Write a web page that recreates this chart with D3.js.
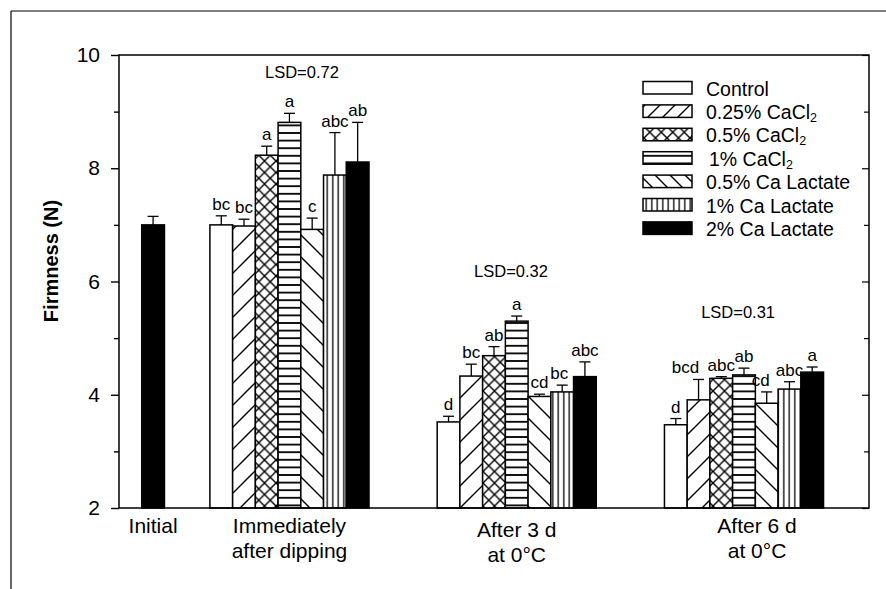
<!DOCTYPE html>
<html><head><meta charset="utf-8">
<script src="https://cdn.jsdelivr.net/npm/d3@7"></script>
<style>
body{margin:0;background:#fff}
svg{display:block}
text{font-family:"Liberation Sans",Arial,Helvetica,sans-serif;fill:#000}
</style>
</head><body>
<svg id="c" width="886" height="589"></svg>
<script>
// ---------------- data ----------------
const categories = ["Initial", "Immediately|after dipping", "After 3 d|at 0°C", "After 6 d|at 0°C"];
const treatments = ["Control", "0.25% CaCl2", "0.5% CaCl2", "1% CaCl2", "0.5% Ca Lactate", "1% Ca Lactate", "2% Ca Lactate"];

const initialValues = [7.00];
const initialErrors = [0.15];
const initialLetters = [""];

const immediateValues = [7.00, 6.98, 8.23, 8.81, 6.92, 7.88, 8.11];
const immediateErrors = [0.16, 0.12, 0.16, 0.16, 0.20, 0.75, 0.70];
const immediateLetters = ["bc", "bc", "a", "a", "c", "abc", "ab"];

const after3dValues = [3.52, 4.33, 4.69, 5.30, 3.97, 4.05, 4.32];
const after3dErrors = [0.10, 0.21, 0.16, 0.09, 0.04, 0.12, 0.26];
const after3dLetters = ["d", "bc", "ab", "a", "cd", "bc", "abc"];

const after6dValues = [3.47, 3.91, 4.29, 4.35, 3.85, 4.10, 4.40];
const after6dErrors = [0.11, 0.36, 0.03, 0.12, 0.20, 0.13, 0.09];
const after6dLetters = ["d", "bcd", "abc", "ab", "cd", "abc", "a"];

const lsdLabels = ["LSD=0.72", "LSD=0.32", "LSD=0.31"];
const yMajorTicks = [2, 4, 6, 8, 10];
const yMinorTicks = [3, 5, 7, 9];
const yDomain = [2, 10];
const yTitle = "Firmness (N)";

// ---------------- layout ----------------
const svg = d3.select("#c");
const pL = 119, pR = 869, pT = 55, pB = 508;
const x = d3.scaleLinear().domain([0, 33]).range([pL, pR]);
const y = d3.scaleLinear().domain(yDomain).range([pB, pT]);
const bw = x(1) - x(0);

// outer page frame (top/left)
svg.append("line").attr("x1", 11).attr("x2", 886).attr("y1", 11).attr("y2", 11).attr("stroke", "#000").attr("stroke-width", 1.2);
svg.append("line").attr("x1", 11).attr("x2", 11).attr("y1", 11).attr("y2", 589).attr("stroke", "#000").attr("stroke-width", 1.2);

// ---------------- patterns ----------------
const defs = svg.append("defs");
function pat(id, w, h, draw) {
  const p = defs.append("pattern").attr("id", id).attr("patternUnits", "userSpaceOnUse")
    .attr("width", w).attr("height", h);
  p.append("rect").attr("width", w).attr("height", h).attr("fill", "#fff");
  draw(p, w, h);
}
function slashPat(id, s) {
  pat(id, s, s, (p) => p.append("path").attr("d", `M0,${s} L${s},0 M${-2},2 L2,${-2} M${s-2},${s+2} L${s+2},${s-2}`)
    .attr("stroke", "#000").attr("stroke-width", 1.4));
}
function backPat(id, s) {
  pat(id, s, s, (p) => p.append("path").attr("d", `M0,0 L${s},${s} M${-2},${s-2} L2,${s+2} M${s-2},${-2} L${s+2},2`)
    .attr("stroke", "#000").attr("stroke-width", 1.4));
}
slashPat("p1", 22); slashPat("lp1", 15);
backPat("p4", 22); backPat("lp4", 15);
pat("p2", 11.5, 11.5, (p) => p.append("path").attr("d", "M0,0 L11.5,11.5 M11.5,0 L0,11.5")
  .attr("stroke", "#000").attr("stroke-width", 1.4));
pat("p3", 10, 7.6, (p) => p.append("line").attr("x1", 0).attr("x2", 10).attr("y1", 3.8).attr("y2", 3.8)
  .attr("stroke", "#000").attr("stroke-width", 1.8));
pat("p5", 5.5, 10, (p) => p.append("line").attr("x1", 2.75).attr("x2", 2.75).attr("y1", 0).attr("y2", 10)
  .attr("stroke", "#000").attr("stroke-width", 1.3));
const fills = ["#fff", "url(#p1)", "url(#p2)", "url(#p3)", "url(#p4)", "url(#p5)", "#000"];
const legendFills = ["#fff", "url(#lp1)", "url(#p2)", "url(#p3)", "url(#lp4)", "url(#p5)", "#000"];

// ---------------- groups ----------------
const groupStart = [1, 4, 14, 24];
const groupSeries = [
  {v: initialValues, e: initialErrors, l: initialLetters, t: [6]},
  {v: immediateValues, e: immediateErrors, l: immediateLetters},
  {v: after3dValues, e: after3dErrors, l: after3dLetters},
  {v: after6dValues, e: after6dErrors, l: after6dLetters}
];
const bars = [];
groupSeries.forEach((g, gi) => {
  g.v.forEach((v, i) => {
    const ti = g.t ? g.t[i] : i;
    bars.push({gi, i, ti, v, e: g.e[i], letter: g.l[i], x0: groupStart[gi] + i});
  });
});

// axes ticks (left, outward)
svg.append("g").attr("transform", `translate(${pL},0)`)
  .call(d3.axisLeft(y).tickValues(yMajorTicks).tickSize(8).tickSizeOuter(0).tickPadding(11).tickFormat(d3.format("d")))
  .call(g => { g.select(".domain").remove(); g.selectAll("line").attr("stroke-width", 1.4);
    g.selectAll("text").attr("font-size", 21).attr("font-family", '"Liberation Sans",Arial,sans-serif'); });
svg.append("g").attr("transform", `translate(${pL},0)`)
  .call(d3.axisLeft(y).tickValues(yMinorTicks).tickSize(5).tickSizeOuter(0).tickFormat(""))
  .call(g => { g.select(".domain").remove(); g.selectAll("line").attr("stroke-width", 1.4); });
// right axis ticks (inward)
svg.append("g").attr("transform", `translate(${pR},0)`)
  .call(d3.axisLeft(y).tickValues(yMajorTicks).tickSize(7).tickSizeOuter(0).tickFormat(""))
  .call(g => { g.select(".domain").remove(); g.selectAll("line").attr("stroke-width", 1.2); });
svg.append("g").attr("transform", `translate(${pR},0)`)
  .call(d3.axisLeft(y).tickValues(yMinorTicks).tickSize(5).tickSizeOuter(0).tickFormat(""))
  .call(g => { g.select(".domain").remove(); g.selectAll("line").attr("stroke-width", 1.2); });

// bars
svg.append("g").selectAll("rect").data(bars).join("rect")
  .attr("x", d => x(d.x0)).attr("width", bw)
  .attr("y", d => y(d.v)).attr("height", d => y(yDomain[0]) - y(d.v))
  .attr("fill", d => fills[d.ti]).attr("stroke", "#000").attr("stroke-width", 1.5);

// error bars
const eb = svg.append("g").attr("stroke", "#000").attr("stroke-width", 1.3);
bars.forEach(d => {
  const cx = x(d.x0 + 0.5);
  eb.append("line").attr("x1", cx).attr("x2", cx).attr("y1", y(d.v)).attr("y2", y(d.v + d.e));
  eb.append("line").attr("x1", cx - 5.5).attr("x2", cx + 5.5).attr("y1", y(d.v + d.e)).attr("y2", y(d.v + d.e));
});

// letters
const letterNudge = {"3-1": -13, "3-4": -6, "2-5": -3};
svg.append("g").selectAll("text").data(bars.filter(d => d.letter)).join("text")
  .attr("x", d => x(d.x0 + 0.5) + (letterNudge[d.gi + "-" + d.i] || 0))
  .attr("y", d => y(d.v + d.e) - 6)
  .attr("text-anchor", "middle").attr("font-size", 17)
  .text(d => d.letter);

// plot frame
svg.append("rect").attr("x", pL).attr("y", pT).attr("width", pR - pL).attr("height", pB - pT)
  .attr("fill", "none").attr("stroke", "#000").attr("stroke-width", 1.5);

// LSD labels
const lsdPos = [{u: 8.05, v: 9.59}, {u: 17.25, v: 6.08}, {u: 27.24, v: 5.36}];
lsdLabels.forEach((t, i) => {
  svg.append("text").attr("x", x(lsdPos[i].u)).attr("y", y(lsdPos[i].v))
    .attr("text-anchor", "middle").attr("font-size", 16.5).text(t);
});

// category labels
const catDx = [0, 0, 0, 13], catDy = [0, 0, 4, 0];
categories.forEach((c, gi) => {
  const n = groupSeries[gi].v.length;
  const cx = x(groupStart[gi] + n / 2) + catDx[gi];
  c.split("|").forEach((line, k) => {
    svg.append("text").attr("x", cx).attr("y", 533 + catDy[gi] + k * 24.5)
      .attr("text-anchor", "middle").attr("font-size", 21).text(line);
  });
});

// y title
svg.append("text").attr("transform", "translate(58,261) rotate(-90)")
  .attr("text-anchor", "middle").attr("font-size", 20).attr("font-weight", "bold").text(yTitle);

// legend
const lg = svg.append("g");
treatments.forEach((t, i) => {
  const by = 95.5 + i * 23.4;
  lg.append("rect").attr("x", 643).attr("y", by - 14).attr("width", 49).attr("height", 12.5)
    .attr("fill", legendFills[i]).attr("stroke", "#000").attr("stroke-width", 1.5);
  const tx = lg.append("text").attr("x", i === 3 ? 709 : 706).attr("y", by).attr("font-size", 19.5);
  const m = t.match(/^(.*Cl)2$/);
  if (m) {
    tx.append("tspan").text(m[1]);
    tx.append("tspan").attr("font-size", 12.5).attr("dy", 3).text("2");
  } else {
    tx.text(t);
  }
});
</script>
</body></html>
